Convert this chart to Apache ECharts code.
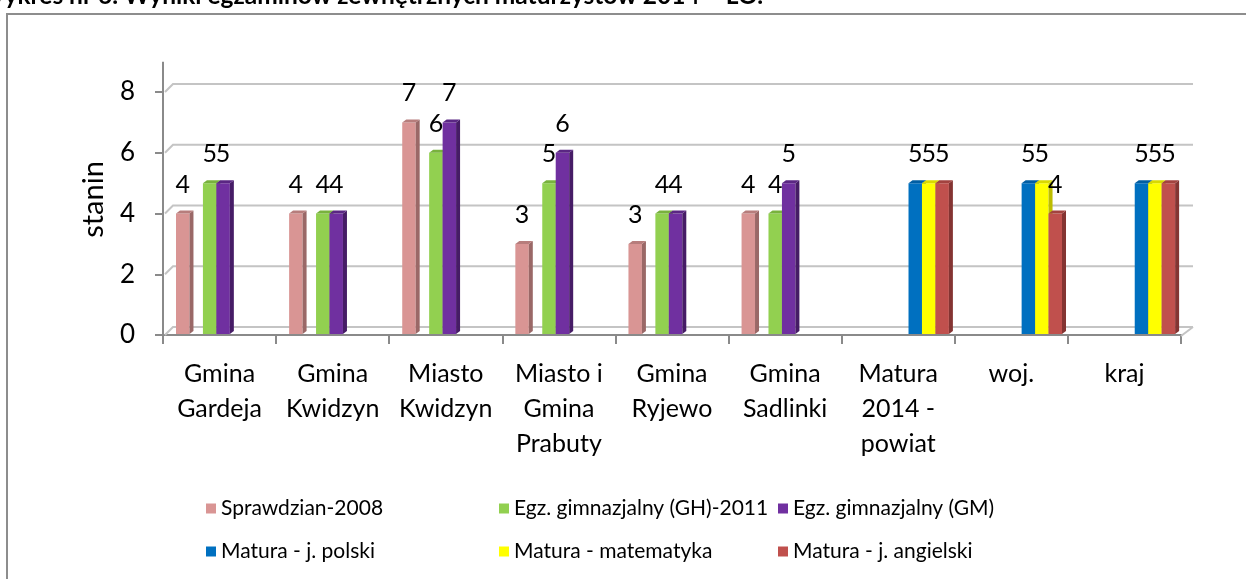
<!DOCTYPE html>
<html>
<head>
<meta charset="utf-8">
<script src="https://cdn.jsdelivr.net/npm/echarts@6/dist/echarts.min.js"></script>
<style>
html,body{margin:0;padding:0;background:#fff;}
#chart{width:1246px;height:579px;}
</style>
</head>
<body>
<div id="chart"></div>
<script>
const titleText = 'Wykres nr 6. Wyniki egzaminów zewnętrznych maturzystów 2014 – LO.';
const categories = ['Gmina\nGardeja', 'Gmina\nKwidzyn', 'Miasto\nKwidzyn', 'Miasto i\nGmina\nPrabuty', 'Gmina\nRyjewo', 'Gmina\nSadlinki', 'Matura\n2014 -\npowiat', 'woj.', 'kraj'];
const yTicks = [0, 2, 4, 6, 8];
const yAxisName = 'stanin';
const sprawdzian2008 = [4, 4, 7, 3, 3, 4, null, null, null];
const egzGH2011 = [5, 4, 6, 5, 4, 4, null, null, null];
const egzGM = [5, 4, 7, 6, 4, 5, null, null, null];
const maturaPolski = [null, null, null, null, null, null, 5, 5, 5];
const maturaMatematyka = [null, null, null, null, null, null, 5, 5, 5];
const maturaAngielski = [null, null, null, null, null, null, 5, 4, 5];
const seriesNames = ['Sprawdzian-2008', 'Egz. gimnazjalny (GH)-2011', 'Egz. gimnazjalny (GM)', 'Matura - j. polski', 'Matura - matematyka', 'Matura - j. angielski'];
const seriesValues = [sprawdzian2008, egzGH2011, egzGM, maturaPolski, maturaMatematyka, maturaAngielski];

// styles (not data)
const FONT = 'Lato';
const styles = [
  {slot: 0, color: '#D99594', side: '#9A6867', top: '#B77D7C'},
  {slot: 2, color: '#92D050', side: '#64952F', top: '#78B23D'},
  {slot: 3, color: '#7030A0', side: '#461C66', top: '#5A2683'},
  {slot: 4, color: '#0070C0', side: '#004C85', top: '#005EA3'},
  {slot: 5, color: '#FFFF00', side: '#BDBD00', top: '#D9D900'},
  {slot: 6, color: '#C0504D', side: '#843432', top: '#A3423F'}
];
const legendLeft = [201, 494, 773];
const legendTop = [493, 536];

const chart = echarts.init(document.getElementById('chart'), null, {renderer: 'canvas'});

function barRenderer(st) {
  return function (params, api) {
    const v = api.value(1);
    if (v == null || isNaN(v)) return null;
    const cat = api.value(0);
    const c = api.coord([cat, v]);
    const b = api.coord([cat, 0]);
    const band = api.size([1, 0])[0];
    const w = band * 0.119;
    const x = c[0] - band / 2 + band * 0.115 + st.slot * w;
    const top = c[1], bot = b[1] - 1;
    const dx = 4, dy = 3;
    return {
      type: 'group',
      children: [
        {type: 'rect', shape: {x: x, y: top, width: w, height: bot - top}, style: {fill: st.color}},
        {type: 'polygon', shape: {points: [[x + w, top], [x + w + dx, top - dy], [x + w + dx, bot - dy], [x + w, bot]]}, style: {fill: st.side}},
        {type: 'polygon', shape: {points: [[x, top], [x + dx, top - dy], [x + w + dx, top - dy], [x + w, top]]}, style: {fill: st.top}},
        {type: 'text', z2: 100, x: x + w / 2, y: top - 29,
          style: {text: String(v), fill: '#000', font: '25px ' + FONT, align: 'center', verticalAlign: 'middle'}}
      ]
    };
  };
}

function decorRenderer(params, api) {
  const cs = params.coordSys;
  const v = api.value(1);
  const y = api.coord([0, v])[1];
  const gx = 10, gy = 8;
  const children = [
    {type: 'polyline', shape: {points: [[cs.x + 2, y], [cs.x + gx, y - gy], [cs.x + cs.width + 12, y - gy]]},
      style: {stroke: '#C4C4C4', lineWidth: 2, fill: null}}
  ];
  if (params.dataIndex === 0) {
    const yb = api.coord([0, -0.26])[1];
    const yt = api.coord([0, 9])[1];
    children.push({type: 'line', shape: {x1: cs.x, y1: yb, x2: cs.x, y2: yt}, style: {stroke: '#8A8A8A', lineWidth: 2}});
    children.push({type: 'line', shape: {x1: cs.x + cs.width, y1: y + 1, x2: cs.x + cs.width + 12, y2: y - gy}, style: {stroke: '#C4C4C4', lineWidth: 2}});
  }
  return {type: 'group', children: children};
}

const series = [{
  type: 'custom', name: '__grid', silent: true, z: 1,
  renderItem: decorRenderer,
  data: yTicks.map(v => [0, v]),
  encode: {x: 0, y: 1}
}];
seriesValues.forEach((arr, i) => {
  const data = [];
  arr.forEach((v, k) => { if (v != null) data.push([k, v]); });
  series.push({
    type: 'custom', name: seriesNames[i], z: 2,
    itemStyle: {color: styles[i].color},
    renderItem: barRenderer(styles[i]),
    data: data,
    encode: {x: 0, y: 1}
  });
});

const legends = seriesNames.map((n, i) => ({
  data: [n], left: legendLeft[i % 3], top: legendTop[Math.floor(i / 3)],
  icon: 'rect', itemWidth: 10, itemHeight: 10, selectedMode: false,
  textStyle: {fontFamily: FONT, fontSize: 21, color: '#000'}
}));

chart.setOption({
  animation: false,
  backgroundColor: '#fff',
  textStyle: {fontFamily: FONT},
  grid: {left: 163, right: 65, top: 92, bottom: 244},
  legend: legends,
  xAxis: {
    type: 'category', data: categories,
    axisLine: {show: true, lineStyle: {color: '#8A8A8A', width: 2}},
    axisTick: {show: true, length: 9, interval: 0, lineStyle: {color: '#8A8A8A', width: 2}},
    axisLabel: {interval: 0, fontFamily: FONT, fontSize: 25, lineHeight: 35, color: '#000', margin: 21},
    splitLine: {show: false}
  },
  yAxis: {
    type: 'value', min: 0, max: 8, interval: 2,
    name: yAxisName, nameLocation: 'middle', nameRotate: 90, nameGap: 55,
    nameTextStyle: {fontFamily: FONT, fontSize: 29, color: '#000', padding: [0, 0, 0, 28]},
    axisLine: {show: false},
    axisTick: {show: true, length: 8, lineStyle: {color: '#8A8A8A', width: 2}},
    axisLabel: {fontFamily: FONT, fontSize: 26, color: '#000', margin: 28},
    splitLine: {show: false}
  },
  graphic: [
    {type: 'rect', shape: {x: 7, y: 14, width: 1300, height: 700}, style: {fill: null, stroke: '#8D8D8D', lineWidth: 2}, silent: true},
    {type: 'text', x: 763, y: 9, style: {text: titleText, font: 'bold 24.5px ' + FONT, fill: '#000', align: 'right', verticalAlign: 'bottom'}, silent: true}
  ],
  series: series
});
</script>
</body>
</html>
